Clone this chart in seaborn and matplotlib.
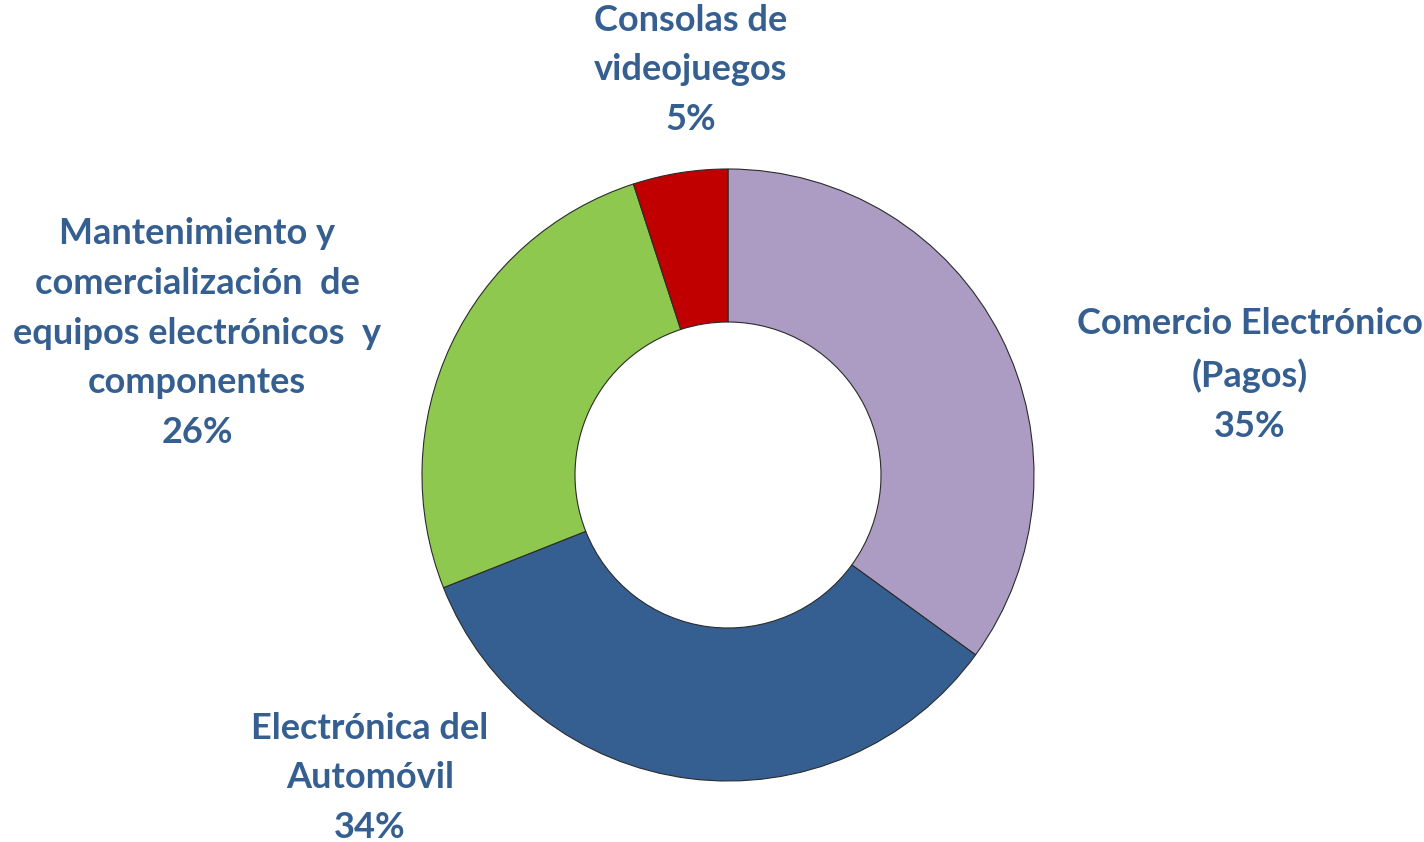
import matplotlib
matplotlib.use("Agg")
import matplotlib.pyplot as plt
import seaborn as sns

categories = ["Comercio Electrónico\n(Pagos)", "Electrónica del\nAutomóvil",
              "Mantenimiento y\ncomercialización  de\nequipos electrónicos  y\ncomponentes",
              "Consolas de\nvideojuegos"]
values = [35, 34, 26, 5]
colors = ["#AC9CC4", "#365F91", "#8EC84E", "#C00000"]

sns.set_theme(style="white")
plt.rcParams['font.family'] = ['Lato', 'DejaVu Sans']

W, H = 1424, 842
fig = plt.figure(figsize=(W / 100, H / 100), dpi=100)
ax = fig.add_axes([0, 0, 1, 1])

cx, cy, R = 728, 475, 306

wedges, _ = ax.pie(values, colors=colors, startangle=90, counterclock=False,
                   radius=1.0, wedgeprops=dict(width=0.5, edgecolor="#2b2b2b", linewidth=0.8))

ax.set_xlim(-cx / R, (W - cx) / R)
ax.set_ylim(-(H - cy) / R, cy / R)
ax.set_aspect('equal')
ax.axis('off')

def px(x, y):
    return (x - cx) / R, (cy - y) / R

label_px = [(1250, 375), (370, 778), (197, 333), (691, 70)]
txt_color = "#365F91"
for cat, v, (x, y) in zip(categories, values, label_px):
    dx, dy = px(x, y)
    ax.text(dx, dy, f"{cat}\n{v}%", ha="center", va="center", color=txt_color,
            fontsize=26, fontweight="bold", linespacing=1.62)

fig.savefig("out.png", dpi=100)
